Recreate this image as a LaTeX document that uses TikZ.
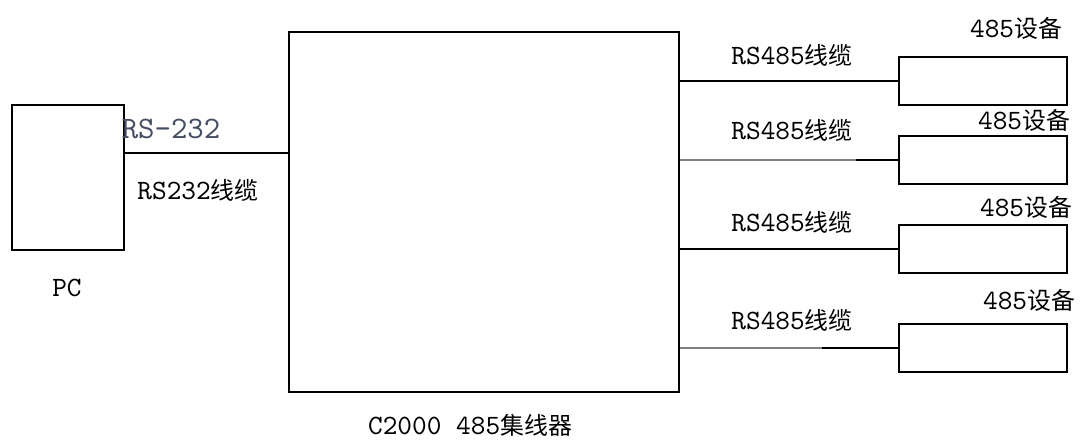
\documentclass[tikz,border=0pt]{standalone}
\usepackage{fontspec}
\setmainfont{lmmono10-regular.otf}[Scale = 1.17]
\newfontfamily\cjk{Noto Sans CJK SC}
\usepackage{tikz}

\definecolor{portblue}{RGB}{70,78,100}

\begin{document}
\begin{tikzpicture}[x = 0.025cm, y = -0.025cm, font = \fontsize{17}{20}\selectfont,
	box/.style = {draw, line width = 2pt, inner sep = 0pt},
	wire/.style = {line width = 1.4pt}]

	% Canvas
	
	\useasboundingbox (0, 0) rectangle (1080, 444);
	
	% Computer and hub
	
	\node [box, minimum width = 2.8cm, minimum height = 3.625cm] (pc) at (68, 177.5) {};
	\node [box, minimum width = 9.75cm, minimum height = 9cm] (hub) at (484, 212) {};
	
	\node (pclabel) at (67, 288) {PC};
	\node (hublabel) at (470, 425) {C2000 485{\cjk 集线器}};
	
	% RS-232 link
	
	\path (pc.east) ++(0, -24.5) coordinate (pcport);
	\draw [wire] (pcport) -- (hub.west |- pcport);
	
	\node [portblue, font = \fontsize{19}{22}\selectfont] (port) at (171, 129) {RS-232};
	\node (rs232) at (198, 190) {RS232{\cjk 线缆}};
	
	% RS485 devices
	
	\foreach \n/\y in {1/81, 2/160, 3/249, 4/348}
		\node [box, minimum width = 4.2cm, minimum height = 1.2cm] (dev\n) at (983, \y) {};
	
	\foreach \n/\x/\y in {1/1016/28, 2/1024/120, 3/1026/207, 4/1029/300}
		\node (tag\n) at (\x, \y) {485{\cjk 设备}};
	
	\foreach \n/\y in {1/55, 2/130, 3/222, 4/320}
		\node (cable\n) at (792, \y) {RS485{\cjk 线缆}};
	
	% Cables (2 and 4 partly grey)
	
	\draw [wire] (hub.east |- dev1.west) -- (dev1.west);
	\draw [wire] (hub.east |- dev3.west) -- (dev3.west);
	
	\coordinate (split2) at ([xshift = -1.05cm] dev2.west);
	\coordinate (split4) at ([xshift = -1.9cm] dev4.west);
	\draw [wire, black!50] (hub.east |- dev2.west) -- (split2);
	\draw [wire] (split2) -- (dev2.west);
	\draw [wire, black!50] (hub.east |- dev4.west) -- (split4);
	\draw [wire] (split4) -- (dev4.west);

\end{tikzpicture}
\end{document}
